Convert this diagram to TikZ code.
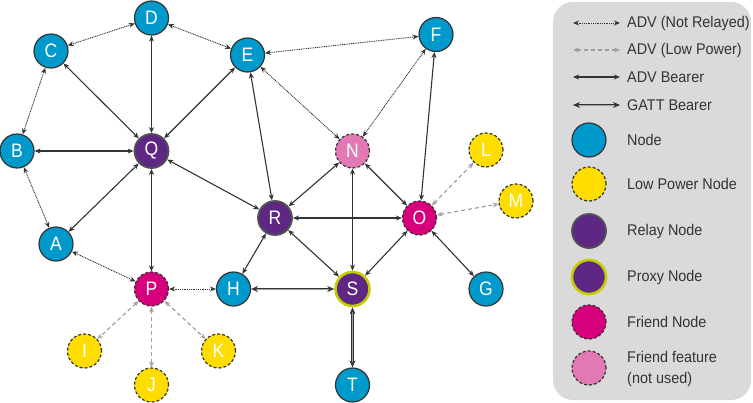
\documentclass[tikz,border=0pt]{standalone}
\usepackage{fontspec}
\setmainfont{Liberation Sans}[FakeStretch=0.93]
\newfontfamily\nodefont{Liberation Sans}[FakeStretch=0.9]
\usetikzlibrary{arrows.meta}
\definecolor{nblue}{RGB}{0,153,204}
\definecolor{nyellow}{RGB}{255,221,0}
\definecolor{npurple}{RGB}{94,39,131}
\definecolor{nmagenta}{RGB}{214,0,124}
\definecolor{npink}{RGB}{226,120,180}
\definecolor{nproxy}{RGB}{195,205,0}
\definecolor{edgedark}{RGB}{51,51,51}
\definecolor{edgegray}{RGB}{160,160,160}
\definecolor{legbg}{RGB}{218,218,218}
\definecolor{txt}{RGB}{51,51,51}
\tikzset{
  nd/.style={circle, minimum size=34pt, inner sep=0pt, draw=edgedark, line width=1.2pt,
    text=white, font=\nodefont\fontsize{19.5}{19.5}\selectfont},
  plain/.style={nd, fill=nblue},
  lowp/.style={nd, fill=nyellow, dash pattern=on 3pt off 2pt},
  relay/.style={nd, fill=npurple, line width=1.8pt, draw=edgedark!85},
  proxy/.style={nd, fill=npurple, draw=nproxy, line width=2.6pt},
  friend/.style={nd, fill=nmagenta, dash pattern=on 3pt off 2pt},
  friendoff/.style={nd, fill=npink, dash pattern=on 3pt off 2pt},
  tip/.style={{Stealth[length=6pt,width=5pt]}-{Stealth[length=6pt,width=5pt]}},
  notrelayed/.style={tip, draw=edgedark, line width=0.9pt, dash pattern=on 1pt off 0.8pt},
  lowpower/.style={tip, draw=edgegray, line width=1.2pt, dash pattern=on 4pt off 3pt},
  advb/.style={tip, draw=edgedark, line width=1.1pt},
  gatt/.style={{Stealth[length=7pt,width=6pt]}-{Stealth[length=7pt,width=6pt]}, draw=edgedark, line width=0.7pt, double=edgegray, double distance=0.8pt},
  legtext/.style={anchor=west, inner sep=0pt, text=txt, font=\fontsize{15.5}{17}\selectfont, align=left},
  legnode/.style={nd, minimum size=34pt}
}
\begin{document}
\begin{tikzpicture}[x=1pt, y=-1pt]
\useasboundingbox (0,0) rectangle (753,402);
% legend background
\fill[legbg, rounded corners=20pt] (553,2) rectangle (751,400);

% nodes
\node[plain] (D) at (151.5,18) {D};
\node[plain] (C) at (51,51) {C};
\node[plain] (E) at (247.5,55) {E};
\node[plain] (F) at (436,34.5) {F};
\node[plain] (B) at (17,151) {B};
\node[relay] (Q) at (151.5,151) {Q};
\node[friendoff] (N) at (352.5,151) {N};
\node[lowp] (L) at (486,150) {L};
\node[relay] (R) at (275,218) {R};
\node[friend] (O) at (419.5,218) {O};
\node[lowp] (M) at (516,201) {M};
\node[plain] (A) at (56,244) {A};
\node[friend] (P) at (151.5,289) {P};
\node[plain] (H) at (233.5,289) {H};
\node[proxy] (S) at (352.5,289) {S};
\node[plain] (G) at (486,289) {G};
\node[lowp] (I) at (84.5,351) {I};
\node[lowp] (K) at (218.5,351) {K};
\node[lowp] (J) at (151.5,385) {J};
\node[plain] (T) at (352.5,385) {T};

% ADV not relayed
\draw[notrelayed] (C) -- (D);
\draw[notrelayed] (D) -- (E);
\draw[notrelayed] (E) -- (F);
\draw[notrelayed] (B) -- (C);
\draw[notrelayed] (A) -- (B);
\draw[notrelayed] (A) -- (P);
\draw[notrelayed] (P) -- (H);
\draw[notrelayed] (E) -- (N);
\draw[notrelayed] (F) -- (N);

% ADV low power
\draw[lowpower] (P) -- (I);
\draw[lowpower] (P) -- (J);
\draw[lowpower] (P) -- (K);
\draw[lowpower] (O) -- (L);
\draw[lowpower] (O) -- (M);

% ADV bearer
\draw[advb] (Q) -- (C);
\draw[advb] (Q) -- (D);
\draw[advb] (Q) -- (E);
\draw[advb] (Q) -- (B);
\draw[advb] (Q) -- (A);
\draw[advb] (Q) -- (P);
\draw[advb] (Q) -- (R);
\draw[advb] (R) -- (E);
\draw[advb] (R) -- (N);
\draw[advb] (R) -- (O);
\draw[advb] (R) -- (S);
\draw[advb] (R) -- (H);
\draw[advb] (N) -- (O);
\draw[advb] (N) -- (S);
\draw[advb] (O) -- (S);
\draw[advb] (O) -- (F);
\draw[advb] (O) -- (G);

% GATT bearer
\draw[gatt] (H) -- (S);
\draw[gatt] (S) -- (T);

% legend
\coordinate (l1a) at (573,23);  \coordinate (l1b) at (620,23);
\coordinate (l2a) at (573,50);  \coordinate (l2b) at (620,50);
\coordinate (l3a) at (573,77);  \coordinate (l3b) at (620,77);
\coordinate (l4a) at (573,105); \coordinate (l4b) at (620,105);
\draw[notrelayed] (l1a) -- (l1b);
\draw[lowpower] (l2a) -- (l2b);
\draw[advb] (l3a) -- (l3b);
\draw[gatt] (l4a) -- (l4b);
\node[legtext] (t1) at (627,23) {ADV (Not Relayed)};
\node[legtext] (t2) at (627,50) {ADV (Low Power)};
\node[legtext] (t3) at (627,77) {ADV Bearer};
\node[legtext] (t4) at (627,105) {GATT Bearer};

\node[plain] (k1) at (589,140) {};
\node[lowp] (k2) at (589,184) {};
\node[relay] (k3) at (589,231) {};
\node[proxy] (k4) at (589,277) {};
\node[friend] (k5) at (589,322) {};
\node[friendoff] (k6) at (589,368) {};
\node[legtext] (t5) at (627,140) {Node};
\node[legtext] (t6) at (627,184) {Low Power Node};
\node[legtext] (t7) at (627,231) {Relay Node};
\node[legtext] (t8) at (627,277) {Proxy Node};
\node[legtext] (t9) at (627,322) {Friend Node};
\node[legtext, font=\fontsize{15.5}{21}\selectfont] (t10) at (627,369) {Friend feature\\(not used)};
\end{tikzpicture}
\end{document}
